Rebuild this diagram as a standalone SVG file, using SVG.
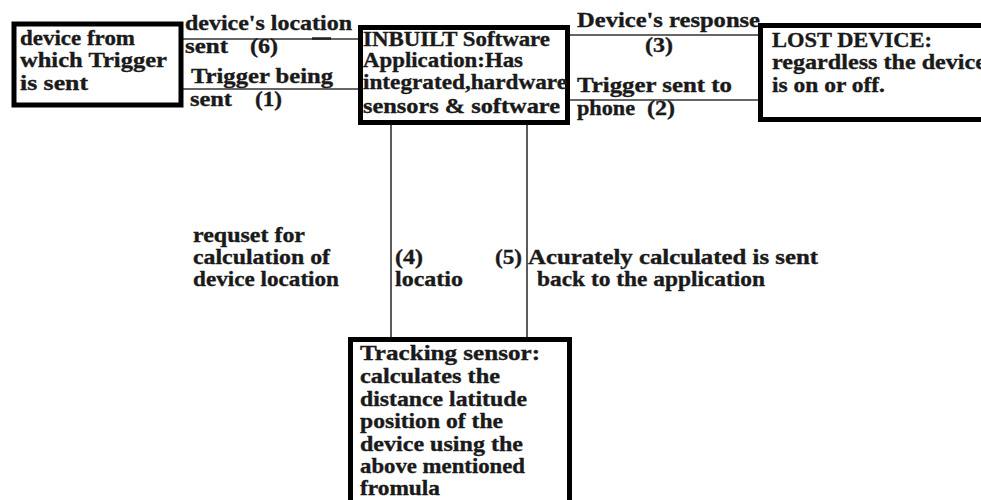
<svg xmlns="http://www.w3.org/2000/svg" width="981" height="500" viewBox="0 0 981 500">
<style>
text{font-family:"Liberation Serif","Times New Roman",serif;font-weight:bold;font-size:20.5px;fill:#1a1a1a;stroke:#1a1a1a;stroke-width:0.35}
.box{fill:#fff;stroke:#000;stroke-width:5}
.ln{stroke:#333;stroke-width:1.6;fill:none}
</style>
<rect width="981" height="500" fill="#fff"/>
<g id="connectors">
<line class="ln" x1="183" y1="39" x2="358" y2="39"/>
<line class="ln" x1="183" y1="89" x2="358" y2="89"/>
<line x1="312" y1="38.5" x2="331" y2="38.5" stroke="#222" stroke-width="2.5"/>
<line class="ln" x1="570" y1="35" x2="758" y2="35"/>
<line class="ln" x1="570" y1="100" x2="758" y2="100"/>
<line class="ln" x1="391" y1="125" x2="391" y2="337"/>
<line class="ln" x1="527" y1="125" x2="527" y2="337"/>
<text x="185" y="30" textLength="167" lengthAdjust="spacingAndGlyphs">device's location</text>
<text x="185" y="53" textLength="43" lengthAdjust="spacingAndGlyphs">sent</text>
<text x="250" y="53" textLength="28" lengthAdjust="spacingAndGlyphs">(6)</text>
<text x="191" y="83" textLength="142" lengthAdjust="spacingAndGlyphs">Trigger being</text>
<text x="190" y="106" textLength="42" lengthAdjust="spacingAndGlyphs">sent</text>
<text x="255" y="106" textLength="27" lengthAdjust="spacingAndGlyphs">(1)</text>
<text x="577" y="27" textLength="183" lengthAdjust="spacingAndGlyphs">Device's response</text>
<text x="645" y="52" textLength="28" lengthAdjust="spacingAndGlyphs">(3)</text>
<text x="577" y="92" textLength="155" lengthAdjust="spacingAndGlyphs">Trigger sent to</text>
<text x="577" y="115" textLength="58" lengthAdjust="spacingAndGlyphs">phone</text>
<text x="647" y="115" textLength="28" lengthAdjust="spacingAndGlyphs">(2)</text>
<text x="193" y="242" textLength="112" lengthAdjust="spacingAndGlyphs">requset for</text>
<text x="193" y="264" textLength="137" lengthAdjust="spacingAndGlyphs">calculation of</text>
<text x="193" y="286" textLength="146" lengthAdjust="spacingAndGlyphs">device location</text>
<text x="395" y="264" textLength="28" lengthAdjust="spacingAndGlyphs">(4)</text>
<text x="395" y="286" textLength="68" lengthAdjust="spacingAndGlyphs">locatio</text>
<text x="495" y="264" textLength="27" lengthAdjust="spacingAndGlyphs">(5)</text>
<text x="528" y="264" textLength="290" lengthAdjust="spacingAndGlyphs">Acurately calculated is sent</text>
<text x="537" y="286" textLength="228" lengthAdjust="spacingAndGlyphs">back to the application</text>
</g>
<g id="node-trigger-device">
<rect class="box" x="14" y="24" width="167" height="81" stroke-width="4"/>
<text x="20" y="45" textLength="115" lengthAdjust="spacingAndGlyphs">device from</text>
<text x="20" y="67" textLength="147" lengthAdjust="spacingAndGlyphs">which Trigger</text>
<text x="20" y="90" textLength="68" lengthAdjust="spacingAndGlyphs">is sent</text>
</g>
<g id="node-app">
<rect class="box" x="360.5" y="27.5" width="207" height="95"/>
<text x="363" y="46" textLength="187" lengthAdjust="spacingAndGlyphs">INBUILT Software</text>
<text x="363" y="67" textLength="160" lengthAdjust="spacingAndGlyphs">Application:Has</text>
<text x="363" y="89" textLength="204" lengthAdjust="spacingAndGlyphs">integrated,hardware</text>
<text x="363" y="113" textLength="197" lengthAdjust="spacingAndGlyphs">sensors &amp; software</text>
</g>
<g id="node-lost-device">
<rect class="box" x="760.5" y="25.5" width="250" height="94"/>
<text x="772" y="47" textLength="160" lengthAdjust="spacingAndGlyphs">LOST DEVICE:</text>
<text x="772" y="69" textLength="214" lengthAdjust="spacingAndGlyphs">regardless the device</text>
<text x="772" y="92" textLength="113" lengthAdjust="spacingAndGlyphs">is on or off.</text>
</g>
<g id="node-tracking-sensor">
<rect class="box" x="350.5" y="339.5" width="219" height="200"/>
<text x="360" y="360" textLength="180" lengthAdjust="spacingAndGlyphs">Tracking sensor:</text>
<text x="360" y="383" textLength="140" lengthAdjust="spacingAndGlyphs">calculates the</text>
<text x="360" y="406" textLength="167" lengthAdjust="spacingAndGlyphs">distance latitude</text>
<text x="360" y="428" textLength="143" lengthAdjust="spacingAndGlyphs">position of the</text>
<text x="360" y="451" textLength="163" lengthAdjust="spacingAndGlyphs">device using the</text>
<text x="360" y="473" textLength="165" lengthAdjust="spacingAndGlyphs">above mentioned</text>
<text x="360" y="495" textLength="80" lengthAdjust="spacingAndGlyphs">fromula</text>
</g>
</svg>
